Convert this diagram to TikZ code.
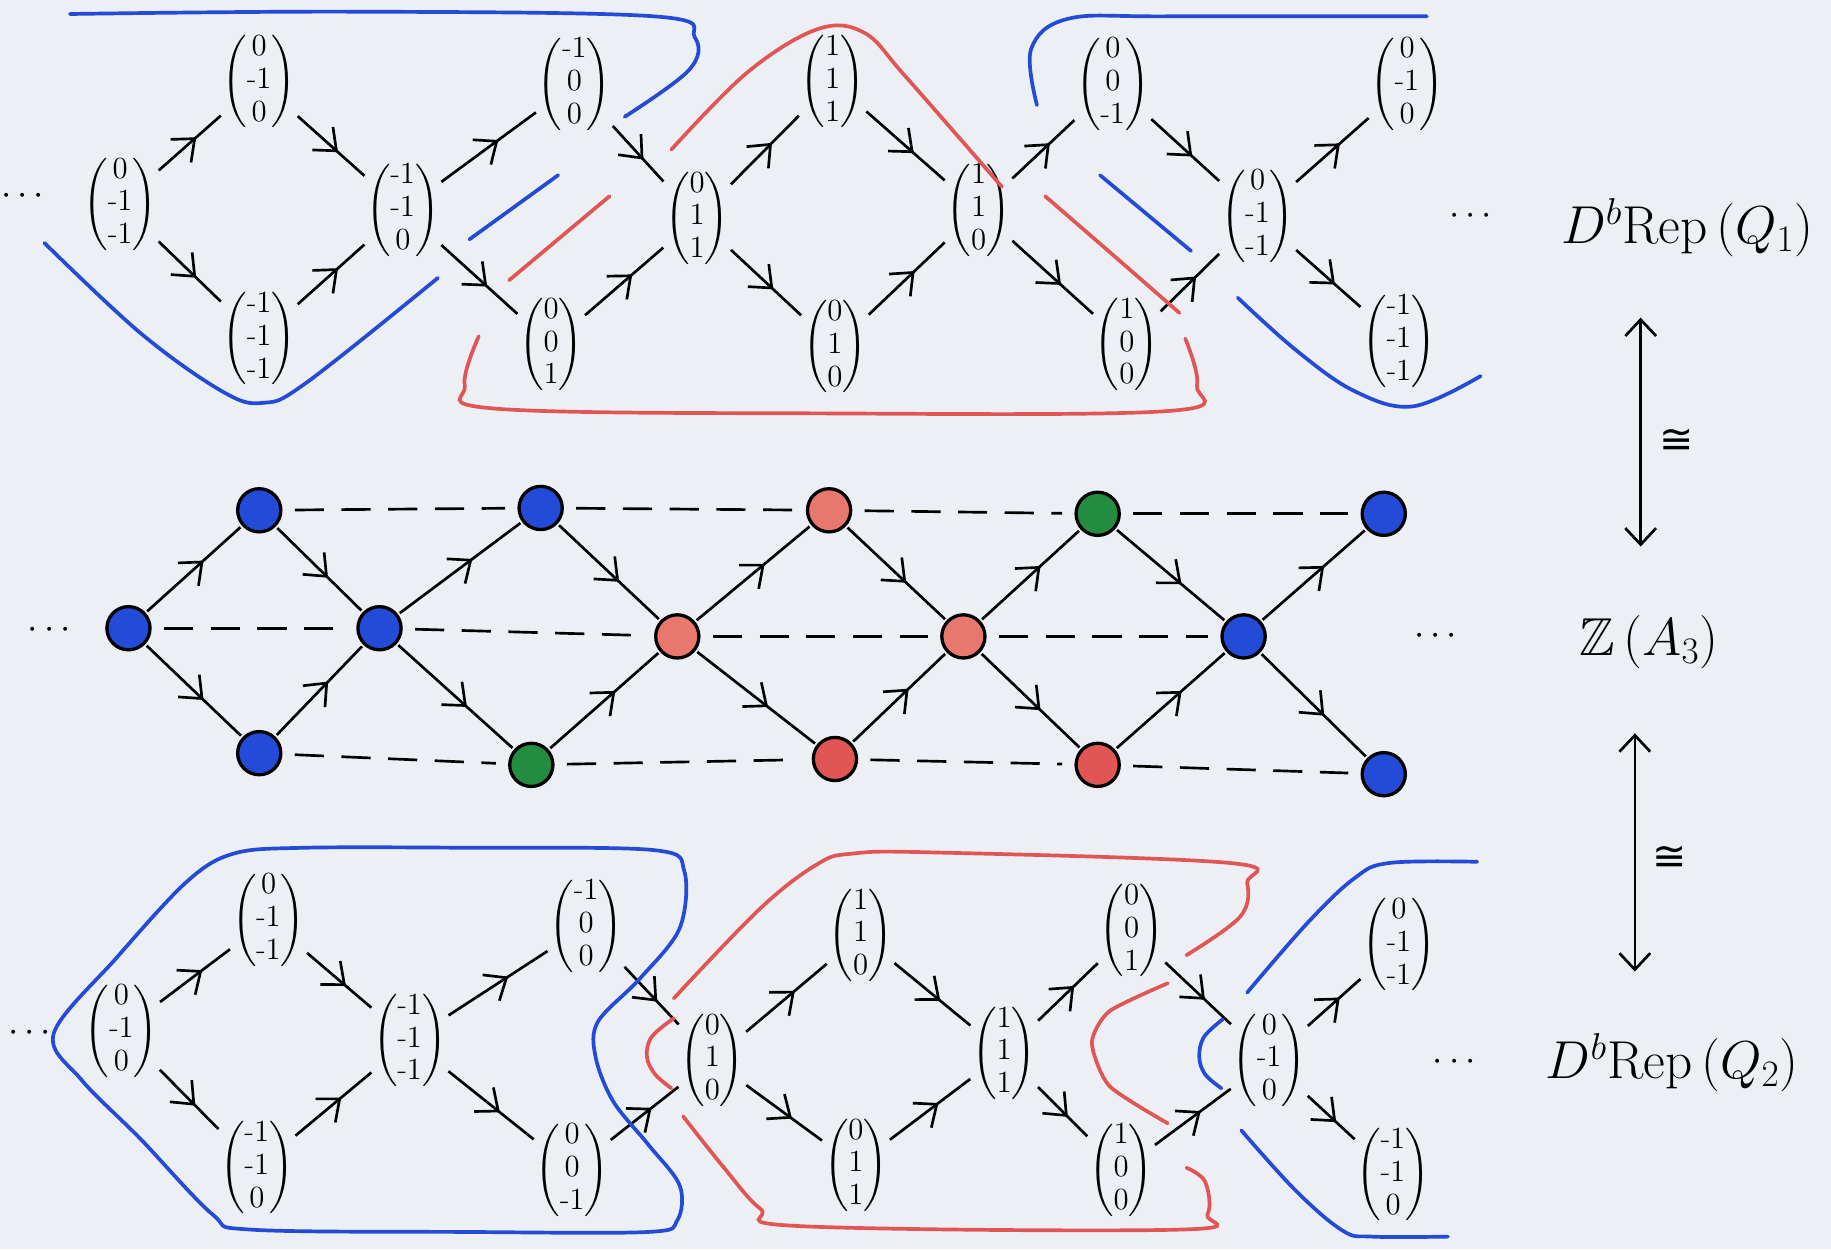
\RequirePackage{fix-cm}
\documentclass[tikz,border=0pt]{standalone}
\usepackage{amsmath,amssymb}
\usepackage{fontspec}
\newfontfamily\djv{DejaVu Sans}
\usetikzlibrary{arrows.meta,decorations.markings}
\definecolor{bgc}{RGB}{236,239,244}
\definecolor{bl}{RGB}{35,75,215}
\definecolor{rd}{RGB}{225,85,85}
\definecolor{rdl}{RGB}{232,120,110}
\definecolor{gr}{RGB}{35,140,65}
\newcommand{\qm}{\text{-}1}
\newcommand{\qvec}[3]{$\setlength{\arraycolsep}{2pt}\begin{pmatrix}#1\\#2\\#3\end{pmatrix}$}
\tikzset{
  qv/.style={inner sep=0pt, font=\fontsize{15}{16}\selectfont},
  midarr/.style={postaction={decorate}, decoration={markings,
     mark=at position 0.6 with {\arrow{Straight Barb[length=9pt,width=15pt]}}}},
  arr/.style={line width=1.3pt, shorten <=1pt, shorten >=1pt, midarr},
  dsh/.style={line width=1.3pt, dash pattern=on 0.5cm off 0.3cm, shorten <=6pt, shorten >=6pt},
  dotn/.style={circle, draw=black, line width=1.6pt, minimum size=0.74cm, inner sep=0pt},
  bcur/.style={draw=bl, line width=1.8pt, line cap=round},
  rcur/.style={draw=rd, line width=1.8pt, line cap=round},
  lbl/.style={inner sep=1pt, font=\fontsize{26}{30}\selectfont},
  ell/.style={inner sep=1pt, font=\fontsize{18}{22}\selectfont},
  iso/.style={inner sep=0pt, font=\djv\fontsize{20}{24}\selectfont},
  dbl/.style={line width=1.3pt, {Straight Barb[length=8pt,width=15pt]}-{Straight Barb[length=8pt,width=15pt]}}
}
\begin{document}
\begin{tikzpicture}[x=0.02cm,y=-0.02cm]
\fill[bgc] (0,0) rectangle (1568,1070);
\useasboundingbox (0,0) rectangle (1568,1070);

% ---------------- top row: Q1 ----------------
\node[qv] (a0)  at (103,175) {\qvec{0}{\qm}{\qm}};
\node[qv] (at0) at (222,70)  {\qvec{0}{\qm}{0}};
\node[qv] (ab0) at (222,290) {\qvec{\qm}{\qm}{\qm}};
\node[qv] (a1)  at (345,180) {\qvec{\qm}{\qm}{0}};
\node[qv] (at1) at (492,72)  {\qvec{\qm}{0}{0}};
\node[qv] (ab1) at (472,295) {\qvec{0}{0}{1}};
\node[qv] (a2)  at (597,187) {\qvec{0}{1}{1}};
\node[qv] (at2) at (713,70)  {\qvec{1}{1}{1}};
\node[qv] (ab2) at (715,297) {\qvec{0}{1}{0}};
\node[qv] (a3)  at (838,180) {\qvec{1}{1}{0}};
\node[qv] (at3) at (953,72)  {\qvec{0}{0}{\qm}};
\node[qv] (ab3) at (965,295) {\qvec{1}{0}{0}};
\node[qv] (a4)  at (1077,185) {\qvec{0}{\qm}{\qm}};
\node[qv] (at4) at (1205,72) {\qvec{0}{\qm}{0}};
\node[qv] (ab4) at (1198,292) {\qvec{\qm}{\qm}{\qm}};
\foreach \i/\j in {0/1,1/2,2/3,3/4}{
  \draw[arr] (a\i) -- (at\i);
  \draw[arr] (a\i) -- (ab\i);
  \draw[arr] (at\i) -- (a\j);
  \draw[arr] (ab\i) -- (a\j);
}
\draw[arr] (a4) -- (at4);
\draw[arr] (a4) -- (ab4);

% ---------------- middle row: Z(A3) ----------------
\node[dotn, fill=bl]  (m0)  at (110,538) {};
\node[dotn, fill=bl]  (mt0) at (222,437) {};
\node[dotn, fill=bl]  (mb0) at (222,645) {};
\node[dotn, fill=bl]  (m1)  at (325,538) {};
\node[dotn, fill=bl]  (mt1) at (463,435) {};
\node[dotn, fill=gr]  (mb1) at (455,655) {};
\node[dotn, fill=rdl] (m2)  at (580,545) {};
\node[dotn, fill=rdl] (mt2) at (710,437) {};
\node[dotn, fill=rd]  (mb2) at (715,650) {};
\node[dotn, fill=rdl] (m3)  at (825,545) {};
\node[dotn, fill=gr]  (mt3) at (940,440) {};
\node[dotn, fill=rd]  (mb3) at (940,655) {};
\node[dotn, fill=bl]  (m4)  at (1065,545) {};
\node[dotn, fill=bl]  (mt4) at (1185,440) {};
\node[dotn, fill=bl]  (mb4) at (1185,663) {};
\foreach \i/\j in {0/1,1/2,2/3,3/4}{
  \draw[arr] (m\i) -- (mt\i);
  \draw[arr] (m\i) -- (mb\i);
  \draw[arr] (mt\i) -- (m\j);
  \draw[arr] (mb\i) -- (m\j);
  \draw[dsh] (m\i) -- (m\j);
  \draw[dsh] (mt\i) -- (mt\j);
  \draw[dsh] (mb\i) -- (mb\j);
}
\draw[arr] (m4) -- (mt4);
\draw[arr] (m4) -- (mb4);

% ---------------- bottom row: Q2 ----------------
\node[qv] (c0)  at (104,883)  {\qvec{0}{\qm}{0}};
\node[qv] (ct0) at (230,788)  {\qvec{0}{\qm}{\qm}};
\node[qv] (cb0) at (220,1000) {\qvec{\qm}{\qm}{0}};
\node[qv] (c1)  at (351,891)  {\qvec{\qm}{\qm}{\qm}};
\node[qv] (ct1) at (502,793)  {\qvec{\qm}{0}{0}};
\node[qv] (cb1) at (490,1002) {\qvec{0}{0}{\qm}};
\node[qv] (c2)  at (610,908)  {\qvec{0}{1}{0}};
\node[qv] (ct2) at (737,801)  {\qvec{1}{1}{0}};
\node[qv] (cb2) at (733,998)  {\qvec{0}{1}{1}};
\node[qv] (c3)  at (860,902)  {\qvec{1}{1}{1}};
\node[qv] (ct3) at (969,797)  {\qvec{0}{0}{1}};
\node[qv] (cb3) at (960,1002) {\qvec{1}{0}{0}};
\node[qv] (c4)  at (1087,908) {\qvec{0}{\qm}{0}};
\node[qv] (ct4) at (1198,809) {\qvec{0}{\qm}{\qm}};
\node[qv] (cb4) at (1193,1006) {\qvec{\qm}{\qm}{0}};
\foreach \i/\j in {0/1,1/2,2/3,3/4}{
  \draw[arr] (c\i) -- (ct\i);
  \draw[arr] (c\i) -- (cb\i);
  \draw[arr] (ct\i) -- (c\j);
  \draw[arr] (cb\i) -- (c\j);
}
\draw[arr] (c4) -- (ct4);
\draw[arr] (c4) -- (cb4);

% ---------------- coloured curves, top row ----------------
\draw[bcur] plot[smooth, tension=0.6] coordinates {(60,12) (300,10) (560,14) (595,32) (590,60) (535,100)};
\draw[bcur] plot[smooth, tension=0.6] coordinates {(38,208) (120,285) (190,335) (225,345) (262,328) (375,238)};
\draw[bcur] (402,205) -- (478,150);
\draw[rcur] (436,240) -- (522,168);
\draw[rcur] plot[smooth, tension=0.6] coordinates {(575,128) (640,62) (700,25) (740,28) (775,65) (858,160)};
\draw[rcur] plot[smooth, tension=0.6] coordinates {(410,288) (398,330) (425,350) (700,354) (1000,352) (1025,330) (1015,290)};
\draw[rcur] plot[smooth, tension=0.6] coordinates {(895,168) (955,220) (1010,268)};
\draw[bcur] (942,150) -- (1020,215);
\draw[bcur] plot[smooth, tension=0.6] coordinates {(888,90) (883,42) (915,16) (1000,14) (1222,14)};
\draw[bcur] plot[smooth, tension=0.6] coordinates {(1060,255) (1110,300) (1160,335) (1210,348) (1268,322)};

% ---------------- coloured curves, bottom row ----------------
\draw[bcur] plot[smooth cycle, tension=0.55] coordinates {(46,885) (100,820) (160,755) (200,731) (260,726) (400,726) (560,728) (586,746) (582,795) (548,838) (512,875) (510,905) (525,943) (555,980) (582,1015) (580,1045) (555,1055) (400,1055) (215,1053) (182,1040) (120,975) (70,925)};
\draw[rcur] plot[smooth, tension=0.6] coordinates {(577,872) (558,888) (554,905) (561,920) (575,932)};
\draw[rcur] plot[smooth, tension=0.6] coordinates {(577,855) (651,778) (700,740) (730,731) (800,730) (1053,739) (1068,756) (1062,785) (1016,818)};
\draw[rcur] plot[smooth, tension=0.6] coordinates {(585,956) (620,1000) (651,1035) (685,1050) (1010,1053) (1034,1040) (1032,1012) (1016,1000)};
\draw[rcur] plot[smooth, tension=0.4] coordinates {(1000,842) (950,866) (935,893) (950,930) (1000,962)};
\draw[bcur] plot[smooth, tension=0.6] coordinates {(1047,873) (1031,888) (1027,905) (1032,920) (1046,932)};
\draw[bcur] plot[smooth, tension=0.6] coordinates {(1068,850) (1120,790) (1160,752) (1190,739) (1265,738)};
\draw[bcur] plot[smooth, tension=0.6] coordinates {(1063,968) (1110,1020) (1150,1054) (1175,1059) (1240,1059)};

% ---------------- ellipses and labels ----------------
\node[ell] (e1l) at (22,168) {$\cdots$};
\node[ell] (e2l) at (45,540) {$\cdots$};
\node[ell] (e3l) at (28,885) {$\cdots$};
\node[ell] (e1r) at (1262,185) {$\cdots$};
\node[ell] (e2r) at (1232,545) {$\cdots$};
\node[ell] (e3r) at (1248,910) {$\cdots$};
\node[lbl] (L1) at (1445,195) {$D^b\mathrm{Rep}\,(Q_1)$};
\node[lbl] (L2) at (1412,550) {$\mathbb{Z}\,(A_3)$};
\node[lbl] (L3) at (1432,910) {$D^b\mathrm{Rep}\,(Q_2)$};
\coordinate (u1) at (1405,272);
\coordinate (u2) at (1405,468);
\coordinate (v1) at (1400,628);
\coordinate (v2) at (1400,832);
\draw[dbl] (u1) -- (u2);
\draw[dbl] (v1) -- (v2);
\node[iso] (i1) at (1436,378) {≅};
\node[iso] (i2) at (1430,735) {≅};
\end{tikzpicture}
\end{document}
